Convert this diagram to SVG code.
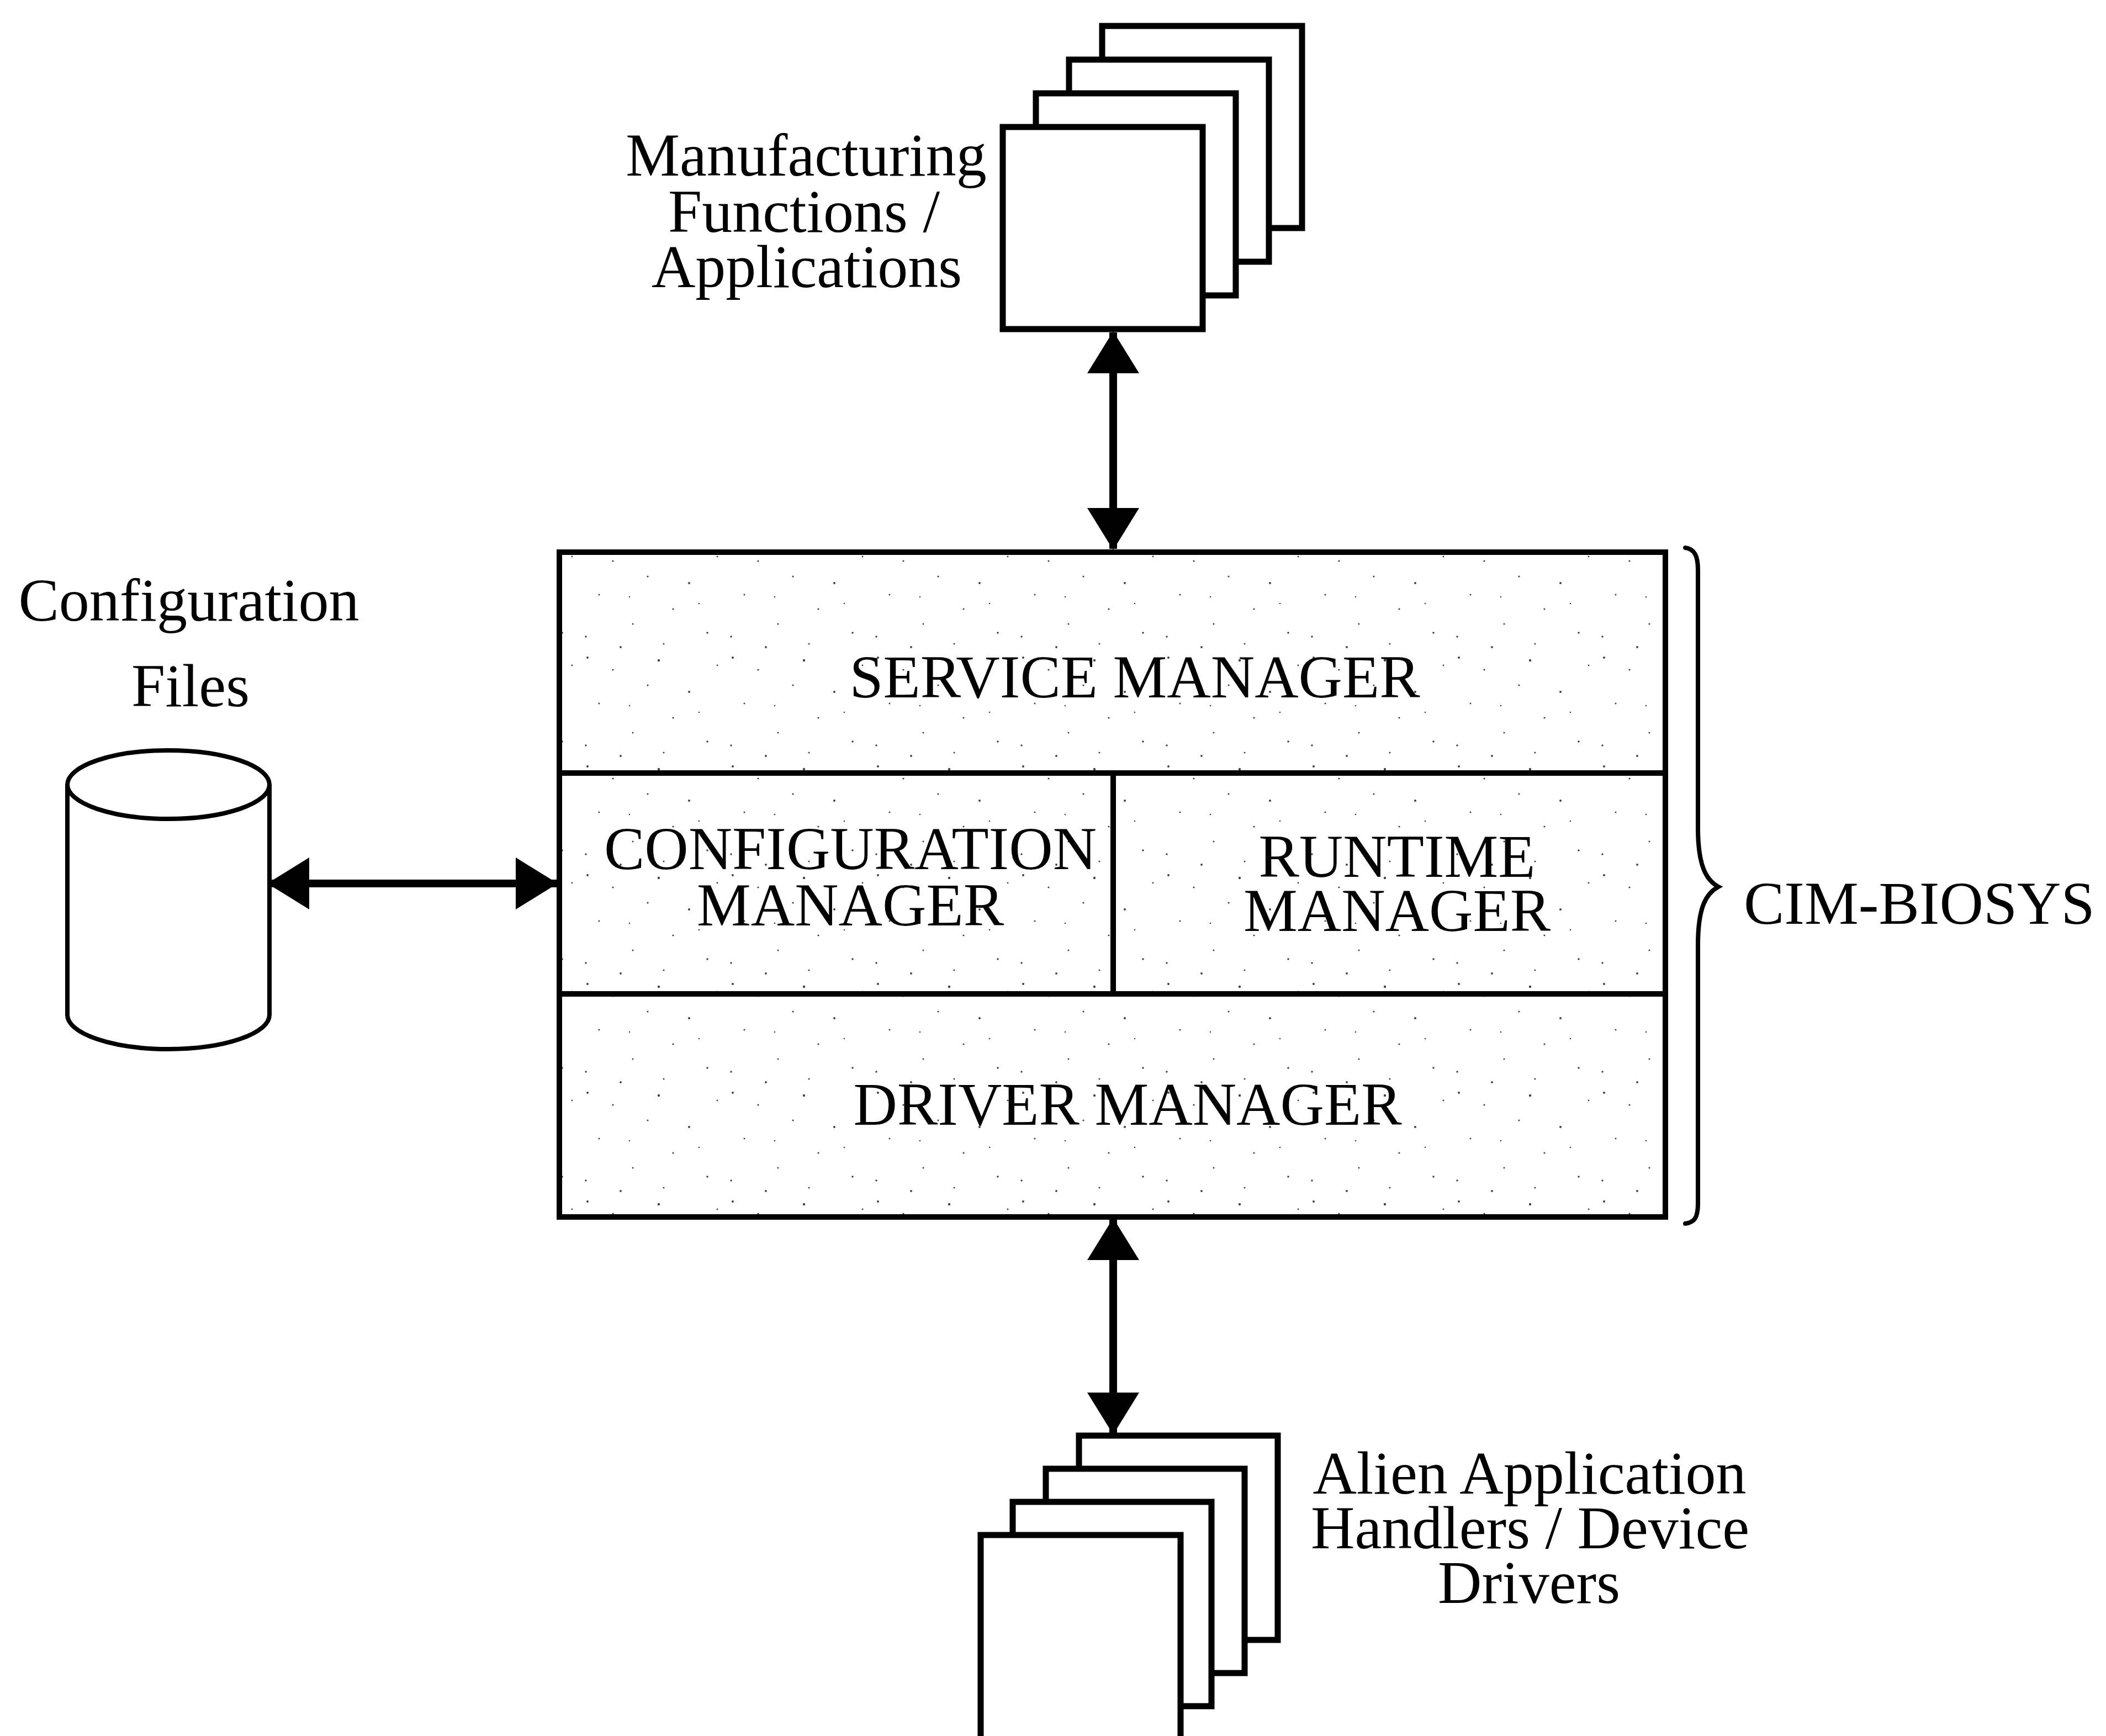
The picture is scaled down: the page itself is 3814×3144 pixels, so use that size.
<svg xmlns="http://www.w3.org/2000/svg" width="3814" height="3144" viewBox="0 0 3814 3144">
  <style>
    .lbl { font-family: "Liberation Serif", "Times New Roman", serif; font-size: 110px; fill: #000; }
    .mid { text-anchor: middle; }
    .card { fill: #fff; stroke: #000; stroke-width: 11; stroke-linejoin: miter; }
    .cell { fill: url(#stipple); stroke: #000; stroke-width: 10; }
    .cyl { fill: #fff; stroke: #000; stroke-width: 8; }
    .wire { fill: none; stroke: #000; stroke-width: 14; }
    .brace { fill: none; stroke: #000; stroke-width: 8; stroke-linecap: round; }
  </style>
  <defs>
    <marker id="head" viewBox="0 0 76 94" refX="74" refY="47" markerWidth="76" markerHeight="94" markerUnits="userSpaceOnUse" orient="auto-start-reverse">
      <path d="M0,0 L76,47 L0,94 Z" fill="#000"/>
    </marker>
    <!-- sparse dot screen used inside the CIM-BIOSYS block -->
    <pattern id="stipple" width="263" height="197" patternUnits="userSpaceOnUse">
      <rect width="263" height="197" fill="#fff"/>
      <g fill="#000" fill-opacity="0.75">
        <circle cx="12" cy="9" r="2"/>
        <circle cx="58" cy="31" r="1.6"/>
        <circle cx="141" cy="14" r="2.2"/>
        <circle cx="33" cy="92" r="1.5"/>
        <circle cx="196" cy="71" r="2"/>
        <circle cx="121" cy="59" r="1.6"/>
        <circle cx="9" cy="168" r="1.7"/>
        <circle cx="94" cy="145" r="1.5"/>
        <circle cx="229" cy="161" r="1.8"/>
        <circle cx="247" cy="23" r="1.4"/>
        <circle cx="167" cy="118" r="1.6"/>
        <circle cx="72" cy="187" r="1.9"/>
        <circle cx="214" cy="108" r="1.3"/>
        <circle cx="150" cy="181" r="1.5"/>
        <circle cx="88" cy="96" r="1.3"/>
      </g>
    </pattern>
  </defs>

  <rect width="3814" height="3144" fill="#fff"/>

  <!-- Manufacturing functions / applications (stack of sheets) -->
  <g id="apps">
    <rect class="card" x="1996" y="47" width="362" height="366"/>
    <rect class="card" x="1936" y="108" width="362" height="366"/>
    <rect class="card" x="1876" y="169" width="362" height="366"/>
    <rect class="card" x="1816" y="230" width="362" height="366"/>
    <text class="lbl mid" x="1460" y="318">Manufacturing</text>
    <text class="lbl mid" x="1456" y="420">Functions /</text>
    <text class="lbl mid" x="1461" y="520">Applications</text>
  </g>

  <!-- Configuration files (disk store) -->
  <g id="config-files">
    <text class="lbl mid" x="342" y="1124">Configuration</text>
    <text class="lbl mid" x="345" y="1279">Files</text>
    <path class="cyl" d="M122,1421 L122,1838 A183,62 0 0 0 488,1838 L488,1421"/>
    <ellipse class="cyl" cx="305" cy="1421" rx="183" ry="62"/>
  </g>

  <!-- CIM-BIOSYS block -->
  <g id="cim-biosys">
    <g id="service-manager">
      <rect class="cell" x="1013" y="1000" width="2003" height="400"/>
      <text class="lbl mid" x="2055" y="1263">SERVICE MANAGER</text>
    </g>
    <g id="configuration-manager">
      <rect class="cell" x="1013" y="1400" width="1003" height="400"/>
      <text class="lbl mid" x="1540" y="1574">CONFIGURATION</text>
      <text class="lbl mid" x="1540" y="1676">MANAGER</text>
    </g>
    <g id="runtime-manager">
      <rect class="cell" x="2016" y="1400" width="1000" height="400"/>
      <text class="lbl mid" x="2530" y="1588">RUNTIME</text>
      <text class="lbl mid" x="2530" y="1686">MANAGER</text>
    </g>
    <g id="driver-manager">
      <rect class="cell" x="1013" y="1800" width="2003" height="404"/>
      <text class="lbl mid" x="2042" y="2037">DRIVER MANAGER</text>
    </g>
    <path class="brace" d="M3052,992 C3068,994 3075,1006 3075,1032 L3075,1500 C3075,1568 3090,1594 3112,1606 C3090,1618 3075,1642 3075,1712 L3075,2180 C3075,2206 3068,2214 3052,2216"/>
    <text class="lbl" x="3158" y="1673">CIM-BIOSYS</text>
  </g>

  <!-- Alien application handlers / device drivers (stack of sheets) -->
  <g id="drivers">
    <rect class="card" x="1954" y="2600" width="360" height="370"/>
    <rect class="card" x="1894" y="2660" width="360" height="370"/>
    <rect class="card" x="1834" y="2720" width="360" height="370"/>
    <rect class="card" x="1776" y="2780" width="362" height="400"/>
    <text class="lbl mid" x="2770" y="2705">Alien Application</text>
    <text class="lbl mid" x="2771" y="2804">Handlers / Device</text>
    <text class="lbl mid" x="2769" y="2903">Drivers</text>
  </g>

  <!-- two-way links -->
  <g id="connectors">
    <path class="wire" d="M2016,602 L2016,994" marker-start="url(#head)" marker-end="url(#head)"/>
    <path class="wire" d="M2016,2208 L2016,2596" marker-start="url(#head)" marker-end="url(#head)"/>
    <path class="wire" d="M486,1600 L1008,1600" marker-start="url(#head)" marker-end="url(#head)"/>
  </g>
</svg>
